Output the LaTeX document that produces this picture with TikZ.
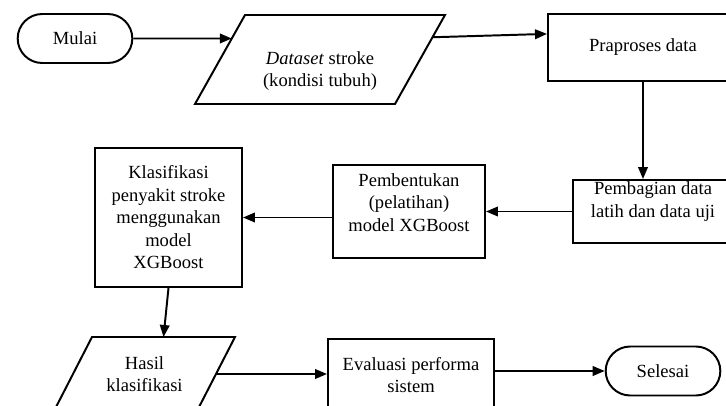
\documentclass[tikz,border=0pt]{standalone}
\usepackage{fontspec}
\setmainfont{Liberation Serif}
\usetikzlibrary{arrows.meta,positioning,shapes.misc,calc}
% slanted data box round an undrawn node: #1 node, #2 half of the slant
\newcommand{\ioshape}[2]{\draw ([xshift=#2]#1.north west) -- ([xshift=#2]#1.north east) -- ([xshift=-#2]#1.south east) -- ([xshift=-#2]#1.south west) -- cycle;}

\begin{document}
\begin{tikzpicture}[
  font=\fontsize{13.2}{16}\selectfont,
  line width=1.4pt,
  term/.style={draw,rounded rectangle,minimum width=3.1cm,minimum height=1.225cm},
  proc/.style={draw,rectangle,align=center,inner sep=2pt},
  io/.style={rectangle,align=center,inner sep=0pt,outer sep=0pt},
  flow/.style={-{Triangle[length=0.3cm,width=0.24cm]}}
]
  \useasboundingbox (0,0) rectangle (18.15,10.125);
  \clip (0,0) rectangle (18.15,10.125);
  % top row
  \node[term] (mulai) at (1.875,9.1625) {Mulai};
  \node[io,minimum width=5.0cm,minimum height=2.225cm,
    label={[align=center,yshift=-0.29cm]center:{\textit{Dataset} stroke\\(kondisi tubuh)}}] (dataset) at (8.0,8.6375) {};
  \ioshape{dataset}{0.625cm}
  \node[proc,minimum width=4.75cm,minimum height=1.675cm] (praproses) at (16.075,8.9375) {Praproses data};
  % middle row
  \node[proc,minimum width=4.0cm,minimum height=1.575cm,
    label={[align=center,yshift=0.25cm]center:{Pembagian data\\latih dan data uji}}] (pembagian) at (16.325,4.8375) {};
  \node[proc,minimum width=3.8cm,minimum height=2.325cm,
    label={[align=center,yshift=0.225cm]center:{Pembentukan\\(pelatihan)\\model XGBoost}}] (pembentukan) at (10.225,4.8375) {};
  \node[proc,minimum width=3.675cm,minimum height=3.475cm] (klasifikasi) at (4.2125,4.6875)
    {Klasifikasi\\penyakit stroke\\menggunakan\\model\\XGBoost};
  % bottom row
  \node[io,minimum width=3.575cm,minimum height=1.85cm] (hasil) at (3.6125,0.775) {Hasil\\klasifikasi};
  \ioshape{hasil}{0.475cm}
  \node[proc,minimum width=4.15cm,minimum height=1.8cm] (evaluasi) at (10.275,0.75) {Evaluasi performa\\sistem};
  \node[term] (selesai) at (16.575,0.85) {Selesai};
  % arrows
  \draw[flow] (mulai.east) -- ($([xshift=-0.625cm]dataset.south west)!0.736!([xshift=0.625cm]dataset.north west)$);
  \draw[flow] ($([xshift=-0.625cm]dataset.south east)!0.75!([xshift=0.625cm]dataset.north east)$) -- ([yshift=0.34cm]praproses.west);
  \draw[flow] (praproses.south) -- (praproses.south |- pembagian.north);
  \draw[flow] (pembagian.west) -- (pembagian.west -| pembentukan.east);
  \draw[flow] (klasifikasi.east -| pembentukan.west) -- (klasifikasi.east);
  \draw[flow] (klasifikasi.south) -- ([xshift=0.475cm]hasil.north);
  \draw[flow] (hasil.east) -- (hasil.east -| evaluasi.west);
  \draw[flow] (selesai.west -| evaluasi.east) -- (selesai.west);
\end{tikzpicture}
\end{document}
